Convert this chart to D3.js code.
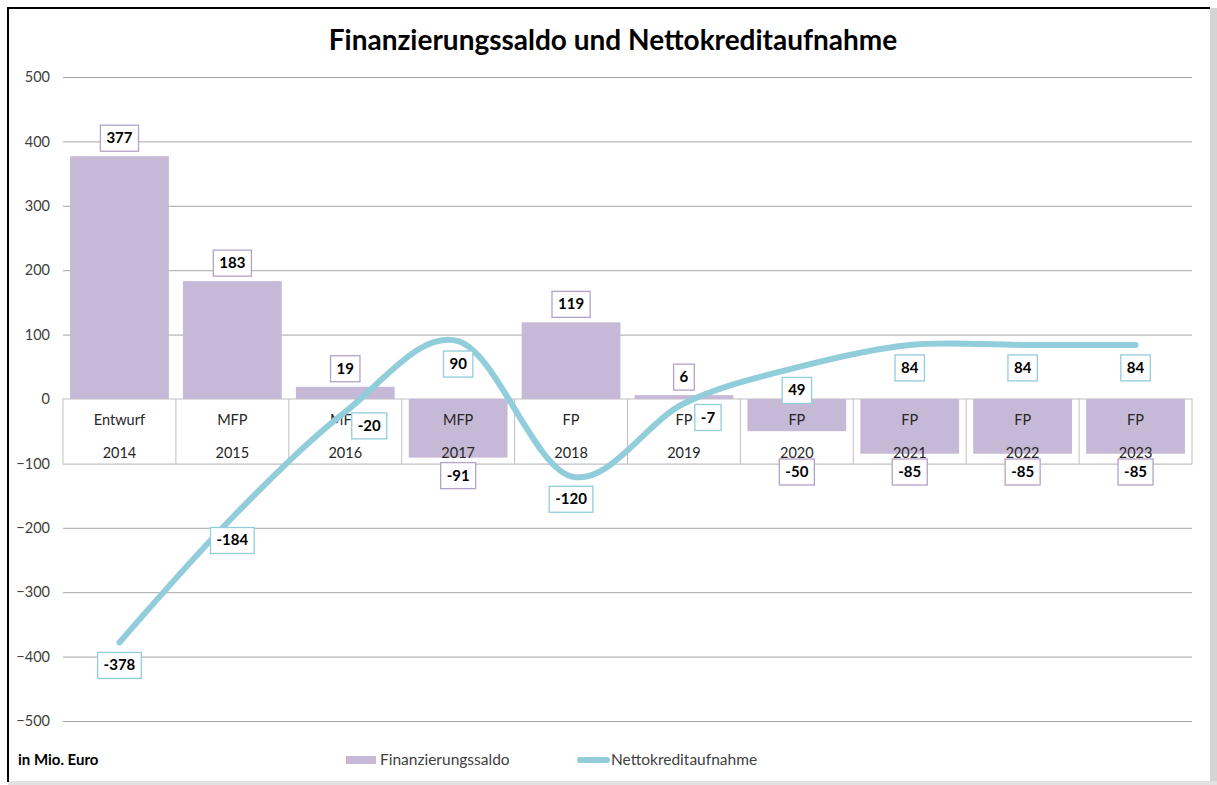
<!DOCTYPE html>
<html>
<head>
<meta charset="utf-8">
<script src="https://cdn.jsdelivr.net/npm/d3@7"></script>
<style>
  body { margin: 0; background: #fff; }
  svg { font-family: Lato, "Open Sans", sans-serif; }
</style>
</head>
<body>
<svg id="chart" width="1217" height="785"></svg>
<script>
// data
const years = ["2014", "2015", "2016", "2017", "2018", "2019", "2020", "2021", "2022", "2023"]
const stages = ["Entwurf", "MFP", "MFP", "MFP", "FP", "FP", "FP", "FP", "FP", "FP"]
const saldo = [377, 183, 19, -91, 119, 6, -50, -85, -85, -85]
const kredit = [-378, -184, -20, 90, -120, -7, 49, 84, 84, 84]
const yTicks = [-500, -400, -300, -200, -100, 0, 100, 200, 300, 400, 500]

// labels of the line that sit to the right of their point instead of below
const rightLabels = ["2016", "2019"]

const barColor = "#c6b9d7", barLabelStroke = "#b3a2c7"
const lineColor = "#92cddc"

let svg = d3.select("#chart")
let margin = { top: 77, right: 1192, bottom: 721, left: 63 }  // plot edges

let x = d3.scaleBand()
    .domain(years)
    .range([margin.left, margin.right])
    .paddingInner(0.125)
    .paddingOuter(0.0625)

let y = d3.scaleLinear()
    .domain([-500, 500])
    .range([margin.bottom, margin.top])

// frame
svg.append("rect")
    .attr("x", 1210).attr("y", 8).attr("width", 7).attr("height", 777)
    .style("fill", "#d4d4d4")
svg.append("rect")
    .attr("x", 8).attr("y", 781).attr("width", 1209).attr("height", 4)
    .style("fill", "#e2e2e2")
svg.append("rect")
    .attr("x", 8).attr("y", 8).attr("width", 1202).attr("height", 773)
    .style("fill", "#fff")
svg.append("path")
    .attr("d", "M8,782 V8 H1210")
    .style("fill", "none")
    .style("stroke", "#000")
    .style("stroke-width", 2)

// title
svg.append("text")
    .attr("x", 613)
    .attr("y", 50)
    .attr("text-anchor", "middle")
    .style("font-size", "28px")
    .style("font-weight", "bold")
    .style("fill", "#000")
    .text("Finanzierungssaldo und Nettokreditaufnahme")

// gridlines + tick labels
let yAxis = d3.axisLeft(y)
    .tickValues(yTicks)
    .tickSize(-(margin.right - margin.left))
    .tickPadding(13)
    .tickFormat(d3.format("d"))

let yAxisG = svg.append("g")
    .attr("transform", `translate(${margin.left},0)`)
    .call(yAxis)
yAxisG.select(".domain").remove()
yAxisG.selectAll(".tick line").style("stroke", "#a6a6a6")
yAxisG.selectAll(".tick text")
    .style("font-size", "14.5px")
    .style("font-family", "Lato, sans-serif")
    .style("fill", "#404040")

// category table under the zero line
let tableTop = y(0), tableBottom = tableTop + 65
let table = svg.append("g")
table.append("rect")
    .attr("x", margin.left).attr("y", tableTop)
    .attr("width", margin.right - margin.left).attr("height", tableBottom - tableTop)
    .style("fill", "#fff")
    .style("stroke", "#bfbfbf")
table.selectAll("line.sep")
    .data(years.slice(1))
    .enter()
    .append("line")
    .attr("x1", d => x(d) - x.step() * x.paddingInner() / 2)
    .attr("x2", d => x(d) - x.step() * x.paddingInner() / 2)
    .attr("y1", tableTop)
    .attr("y2", tableBottom)
    .style("stroke", "#bfbfbf")

// bars
svg.append("g")
    .selectAll("rect")
    .data(years)
    .enter()
    .append("rect")
    .attr("x", d => x(d))
    .attr("width", x.bandwidth())
    .attr("y", (d, i) => y(Math.max(0, saldo[i])))
    .attr("height", (d, i) => Math.abs(y(saldo[i]) - y(0)))
    .style("fill", barColor)

// category texts
let cat = svg.append("g")
    .style("font-size", "14.5px")
    .style("fill", "#262626")
    .attr("text-anchor", "middle")
cat.selectAll("text.stage")
    .data(years)
    .enter()
    .append("text")
    .attr("x", d => x(d) + x.bandwidth() / 2)
    .attr("y", tableTop + 26)
    .text((d, i) => stages[i])
cat.selectAll("text.year")
    .data(years)
    .enter()
    .append("text")
    .attr("x", d => x(d) + x.bandwidth() / 2)
    .attr("y", tableTop + 59)
    .text(d => d)

// line
let line = d3.line()
    .x(d => x(d.year) + x.bandwidth() / 2)
    .y(d => y(d.value))
    .curve(d3.curveCardinal.tension(0))

let lineData = years.map((d, i) => ({ year: d, value: kredit[i] }))
svg.append("path")
    .datum(lineData)
    .attr("d", line)
    .style("fill", "none")
    .style("stroke", lineColor)
    .style("stroke-width", 6)
    .style("stroke-linecap", "round")

// data label helper: white box with coloured border
function labelBox(g, cx, cy, txt, stroke) {
    let t = g.append("text")
        .attr("x", cx)
        .attr("y", cy + 5)
        .attr("text-anchor", "middle")
        .style("font-size", "15px")
        .style("font-weight", "bold")
        .style("fill", "#000")
        .text(txt)
    let w = t.node().getComputedTextLength() + 12
    g.insert("rect", "text")
        .attr("x", cx - w / 2)
        .attr("y", cy - 13)
        .attr("width", w)
        .attr("height", 26)
        .style("fill", "#fff")
        .style("stroke", stroke)
        .style("stroke-width", 1.3)
}

let labels = svg.append("g")
years.forEach((d, i) => {
    let g = labels.append("g")
    let cx = x(d) + x.bandwidth() / 2
    let v = saldo[i]
    let cy = v >= 0 ? y(v) - 18 : Math.max(y(v) + 18, tableBottom + 8)
    labelBox(g, cx, cy, v, barLabelStroke)
})
years.forEach((d, i) => {
    let g = labels.append("g")
    let cx = x(d) + x.bandwidth() / 2
    let v = kredit[i]
    if (rightLabels.includes(d)) {
        labelBox(g, cx + 24, y(v) + 14, v, lineColor)
    } else {
        labelBox(g, cx, y(v) + 23, v, lineColor)
    }
})

// footer + legend
svg.append("text")
    .attr("x", 18)
    .attr("y", 765)
    .style("font-size", "15px")
    .style("font-weight", "bold")
    .style("fill", "#000")
    .text("in Mio. Euro")

let legend = svg.append("g")
legend.append("rect")
    .attr("x", 346).attr("y", 756).attr("width", 30).attr("height", 8)
    .style("fill", barColor)
legend.append("text")
    .attr("x", 380).attr("y", 765)
    .style("font-size", "15.5px")
    .style("fill", "#404040")
    .text("Finanzierungssaldo")
legend.append("line")
    .attr("x1", 580).attr("x2", 607).attr("y1", 760).attr("y2", 760)
    .style("stroke", lineColor)
    .style("stroke-width", 6)
    .style("stroke-linecap", "round")
legend.append("text")
    .attr("x", 611).attr("y", 765)
    .style("font-size", "15.5px")
    .style("fill", "#404040")
    .text("Nettokreditaufnahme")
</script>
</body>
</html>
